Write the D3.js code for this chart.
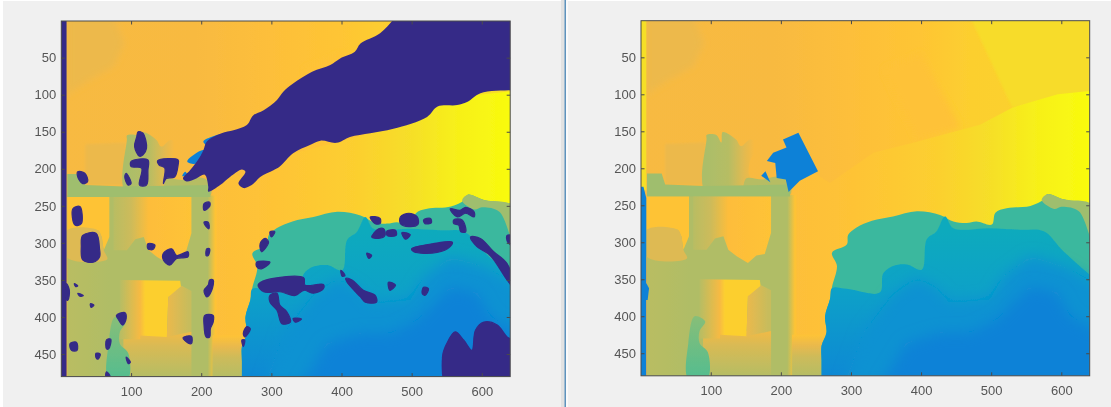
<!DOCTYPE html>
<html>

<head>
  <meta charset="utf-8">
  <title>Depth maps</title>
  <style>
    html, body { margin: 0; padding: 0; background: #f0f0f0; overflow: hidden; }
    text { font-family: "Liberation Sans", Arial, sans-serif; font-size: 13px; fill: #555; }
  </style>
</head>

<body>
  <script src="https://d3js.org/d3.v7.min.js" charset="utf-8"></script>
  <script type="text/javascript">
    var xTicks = [100, 200, 300, 400, 500, 600];
    var yTicks = [50, 100, 150, 200, 250, 300, 350, 400, 450];

    // colormap positions and rgb of the map used by both images
    var cmapPos = [0, 0.125, 0.25, 0.375, 0.5, 0.625, 0.75, 0.875, 0.905, 0.937, 0.97, 1];
    var cmapRgb = ['#352a87', '#0f5cdd', '#127dd8', '#079ccf', '#15b1b4', '#59bd8c', '#a5be6b', '#ecb94c', '#fdbb3d', '#fec832', '#f5e326', '#f9fb0e'];

    // depth regions, pixel coordinates of the image (x, y), painted in order
    var sky = [[-5, -5], [645, -5], [645, 485], [-5, 485]];
    var skyStops = [[0, 0.895], [190, 0.897], [300, 0.915], [400, 0.93], [470, 0.945], [640, 0.95]];
    var wedge = [[399, 44], [456, 145], [394, 163], [346, 66]];
    var skyRight = [[470, -5], [645, -5], [645, 100], [530, 118]];
    var cornerPatch = [[8, -5], [75, -5], [90, 30], [75, 62], [40, 80], [8, 100]];
    var floorPlane = [[645, 95], [595, 100], [530, 118], [484, 141], [394, 164], [332, 179], [270, 220], [220, 190], [215, 240], [215, 485], [645, 485]];
    var floorStops = [[220, 0.915], [300, 0.925], [420, 0.945], [500, 0.965], [560, 0.985], [640, 1]];
    var dimBox = [[35, 167], [92, 165], [95, 222], [35, 222]];
    var frameTop = [[94, 160], [94, 155], [108, 155], [115, 165], [117, 151], [136, 161], [143, 170], [157, 161], [168, 170], [156, 190], [156, 211], [175, 215], [194, 211], [211, 217], [213, 236], [94, 236]];
    var frameTopStops = [[94, 0.76], [125, 0.78], [148, 0.86], [162, 0.897]];
    var frameFoot = [[150, 214], [175, 215], [194, 211], [211, 217], [213, 236], [150, 236]];
    var wall = [[9, 236], [222, 236], [222, 485], [9, 485]];
    var wallStops = [[9, 0.785], [70, 0.77], [209, 0.77], [220, 0.925]];
    var frameBar = [[9, 207], [30, 207], [35, 222], [90, 224], [213, 222], [213, 238], [9, 238]];
    var paneA = [[9, 238], [69, 238], [69, 292], [61, 310], [58, 292], [53, 283], [9, 283]];
    var paneALow = [[9, 283], [53, 283], [58, 292], [61, 310], [66, 322], [9, 320]];
    var paneB = [[75, 238], [186, 238], [186, 287], [177, 316], [165, 318], [153, 328], [137, 319], [125, 310], [118, 292], [106, 295], [94, 310], [75, 310]];
    var paneBStops = [[72, 0.78], [100, 0.82], [125, 0.91], [186, 0.925]];
    var paneLow = [[89, 420], [186, 420], [186, 485], [89, 485]];
    var paneLowStops = [[415, 0.895], [440, 0.84], [480, 0.78]];
    var paneC = [[84, 350], [170, 351], [172, 365], [153, 373], [151, 427], [113, 425], [113, 430], [84, 430]];
    var paneCStops = [[84, 0.78], [113, 0.895], [120, 0.945], [150, 0.945]];
    var paneD = [[153, 373], [172, 358], [186, 365], [186, 420], [151, 427]];
    var paneDStops = [[153, 0.87], [182, 0.81]];
    var floorFront = [[216, 425], [265, 425], [265, 485], [216, 485]];
    var floorFrontStops = [[425, 0.925], [440, 0.87], [455, 0.82], [480, 0.78]];
    var greenColumn = [[68, 436], [77, 400], [92, 407], [84, 420], [84, 436], [96, 449], [95, 485], [68, 485]];
    var greenStops = [[400, 0.7], [480, 0.62]];

    var lake = [[258, 500], [258, 480], [258, 460], [258, 440], [265, 422], [263, 400], [270, 377], [273, 360], [280, 332], [273, 314], [294, 303], [296, 290], [308, 280], [330, 271], [360, 265], [394, 258], [427, 263], [446, 272], [465, 274], [479, 272], [501, 276], [506, 260], [522, 254], [556, 251], [575, 242], [580, 235], [603, 242], [645, 250], [670, 260], [670, 500], [400, 510]];
    var hump = [[572, 243], [580, 235], [603, 242], [645, 250], [645, 300], [625, 258], [600, 252], [590, 255]];
    var lakeInner = [[422, 285], [434, 265], [446, 281], [498, 281], [541, 283], [575, 285], [603, 312], [645, 348], [670, 370], [670, 500], [400, 510], [258, 500], [258, 480], [258, 460], [258, 440], [265, 422], [263, 400], [270, 377], [273, 362], [294, 363], [341, 368], [346, 342], [360, 332], [380, 330], [401, 337], [408, 296]];
    var lakeStops = [[285, 0.46], [360, 0.41], [480, 0.3]];
    var lakeMid = [[289, 495], [318, 422], [360, 371], [394, 348], [422, 362], [441, 382], [498, 377], [517, 346], [556, 319], [603, 332], [655, 359], [655, 495]];
    var lakeCore = [[341, 495], [379, 436], [427, 422], [470, 422], [508, 404], [556, 359], [594, 368], [613, 400], [655, 422], [655, 495]];

    // only in the filled image on the right
    var edgeTop = [[-5, -5], [8, -5], [8, 230], [-5, 230]];
    var edgeLow = [[-5, 225], [4, 225], [8, 240], [8, 355], [12, 362], [10, 378], [8, 378], [8, 485], [-5, 485]];
    var filledBox = [[225, 152], [253, 204], [227, 217], [211, 232], [207, 215], [194, 213], [192, 193], [180, 190], [189, 179], [208, 172], [203, 161]];
    var filledChip = [[172, 210], [178, 204], [185, 219]];

    // only in the raw image on the left
    var slivers = [
      [[203, 163], [217, 156], [227, 154], [212, 170]],
      [[180, 190], [198, 176], [205, 175], [193, 193]],
      [[173, 210], [177, 204], [180, 208]]
    ];
    var bigHole = [[477, -5], [455, 17], [427, 31], [419, 42], [398, 51], [384, 60], [358, 69], [331, 85], [317, 96], [308, 107], [289, 121], [274, 128], [265, 141], [246, 148], [229, 152], [208, 163], [203, 175], [198, 184], [184, 202], [174, 213], [179, 217], [193, 213], [205, 208], [210, 224], [210, 231], [227, 222], [241, 211], [258, 201], [263, 204], [253, 220], [260, 226], [272, 222], [284, 211], [303, 202], [312, 197], [331, 179], [355, 168], [370, 162], [393, 165], [412, 157], [441, 152], [474, 146], [522, 130], [537, 116], [565, 114], [579, 110], [598, 98], [645, 94], [660, 94], [660, -20], [490, -20]];
    var leftStrip = [[-5, -5], [8, -5], [8, 485], [-5, 485]];
    var holes = [
      [[110, 150], [117, 152], [122, 172], [117, 181], [112, 183], [105, 170], [108, 157]],
      [[100, 190], [124, 188], [124, 202], [122, 222], [112, 222], [115, 199], [100, 197]],
      [[93, 206], [100, 220], [96, 222], [91, 211]],
      [[138, 189], [167, 188], [167, 195], [162, 211], [150, 213], [146, 220], [148, 199], [140, 195]],
      [[24, 204], [34, 206], [38, 217], [31, 220], [24, 211]],
      [[204, 247], [212, 245], [212, 251], [204, 256]],
      [[17, 254], [27, 251], [29, 274], [20, 276]],
      [[31, 290], [50, 287], [55, 308], [55, 319], [46, 326], [31, 323], [29, 305]],
      [[124, 301], [134, 303], [131, 309], [124, 308]],
      [[146, 314], [158, 308], [165, 317], [181, 312], [181, 319], [165, 321], [155, 330], [146, 323]],
      [[279, 326], [298, 326], [286, 335], [279, 332]],
      [[284, 301], [291, 294], [296, 299], [286, 312]],
      [[298, 285], [305, 285], [300, 292]],
      [[281, 357], [293, 350], [346, 347], [348, 357], [374, 356], [374, 362], [360, 368], [346, 364], [334, 371], [312, 366], [289, 366]],
      [[298, 371], [308, 368], [312, 384], [322, 393], [327, 407], [315, 409], [308, 391], [298, 380]],
      [[331, 402], [343, 403], [334, 407]],
      [[8, 355], [12, 364], [10, 377], [8, 377]],
      [[19, 355], [24, 358], [21, 359]],
      [[24, 368], [32, 371], [27, 372]],
      [[42, 382], [47, 384], [43, 387]],
      [[79, 398], [91, 394], [93, 402], [88, 411], [81, 402]],
      [[13, 436], [22, 434], [23, 445], [15, 445]],
      [[50, 449], [56, 450], [53, 457], [50, 455]],
      [[65, 431], [71, 430], [68, 443], [65, 443]],
      [[65, 474], [70, 480], [64, 480]],
      [[93, 454], [99, 461], [96, 463]],
      [[174, 428], [186, 426], [186, 436], [181, 435]],
      [[204, 272], [210, 272], [211, 281], [207, 278]],
      [[208, 308], [212, 308], [210, 317], [207, 317]],
      [[212, 350], [217, 350], [215, 364], [208, 373], [204, 364], [210, 357]],
      [[205, 398], [217, 398], [217, 407], [213, 416], [212, 427], [207, 427], [204, 411]],
      [[265, 413], [270, 416], [262, 427], [260, 422]],
      [[258, 431], [262, 431], [260, 440]],
      [[441, 265], [455, 267], [455, 274], [448, 274]],
      [[484, 265], [496, 260], [508, 265], [509, 275], [496, 278], [484, 274]],
      [[517, 269], [527, 267], [528, 273], [519, 274]],
      [[555, 254], [569, 256], [577, 252], [589, 258], [589, 265], [577, 260], [565, 265]],
      [[560, 269], [572, 269], [577, 285], [570, 285], [567, 276], [560, 274]],
      [[453, 281], [460, 281], [462, 290], [453, 294], [443, 292], [446, 287]],
      [[465, 284], [477, 283], [478, 290], [465, 290]],
      [[486, 286], [498, 289], [491, 295]],
      [[500, 308], [531, 301], [558, 299], [555, 305], [536, 313], [503, 312]],
      [[584, 292], [598, 294], [617, 312], [636, 328], [648, 364], [636, 350], [612, 317], [593, 305]],
      [[636, 290], [648, 292], [648, 305], [637, 299]],
      [[436, 314], [443, 317], [439, 321]],
      [[399, 337], [405, 344], [401, 345]],
      [[406, 348], [415, 350], [431, 364], [448, 371], [450, 380], [434, 380], [427, 373], [408, 353]],
      [[467, 353], [477, 357], [469, 364]],
      [[517, 360], [524, 362], [519, 371], [515, 368]],
      [[550, 436], [562, 420], [574, 431], [586, 445], [591, 418], [603, 407], [622, 411], [636, 427], [650, 436], [655, 500], [553, 500], [544, 454]]
    ];

    var parula = d3.scaleLinear().domain(cmapPos).range(cmapRgb);

    // scene shared by both images
    var layers = [
      { pts: sky, axis: 'x', stops: skyStops },
      { pts: wedge, value: 0.922, blur: 'mid' },
      { pts: skyRight, value: 0.962, blur: 'thin' },
      { pts: cornerPatch, value: 0.877, blur: 'mid' },
      { pts: floorPlane, axis: 'x', stops: floorStops },
      { pts: dimBox, value: 0.875, blur: 'thin' },
      { pts: frameTop, axis: 'x', stops: frameTopStops, smooth: true },
      { pts: frameFoot, value: 0.78, smooth: true },
      { pts: wall, axis: 'x', stops: wallStops },
      { pts: frameBar, value: 0.74 },
      { pts: paneA, value: 0.925 },
      { pts: paneALow, value: 0.85, smooth: true },
      { pts: paneB, axis: 'x', stops: paneBStops },
      { pts: paneLow, axis: 'y', stops: paneLowStops },
      { pts: paneC, axis: 'x', stops: paneCStops },
      { pts: paneD, axis: 'x', stops: paneDStops },
      { pts: floorFront, axis: 'y', stops: floorFrontStops },
      { pts: greenColumn, axis: 'y', stops: greenStops, smooth: true },
      { pts: lake, value: 0.57, smooth: true },
      { pts: hump, value: 0.74, smooth: true },
      { pts: lakeInner, axis: 'y', stops: lakeStops, smooth: true },
      { pts: lakeMid, value: 0.335, blur: 'wide' },
      { pts: lakeCore, value: 0.27, blur: 'wide' }
    ];

    var svg = d3.select('body').append('svg').attr('width', 1111).attr('height', 407)
      .style('display', 'block');

    // window chrome around the two figures
    svg.append('rect').attr('x', 0).attr('y', 0).attr('width', 3).attr('height', 407).attr('fill', '#fff');
    svg.append('rect').attr('x', 0).attr('y', 0).attr('width', 1111).attr('height', 1).attr('fill', '#fff');
    svg.append('rect').attr('x', 561).attr('y', 0).attr('width', 4).attr('height', 407).attr('fill', '#e2e2e2');
    svg.append('rect').attr('x', 564.5).attr('y', 0).attr('width', 1.5).attr('height', 407).attr('fill', '#5f93bd');
    svg.append('rect').attr('x', 566).attr('y', 0).attr('width', 2).attr('height', 407).attr('fill', '#fafafa');

    var defs = svg.append('defs');
    function addBlur(id, sd) {
      defs.append('filter').attr('id', id).attr('filterUnits', 'userSpaceOnUse')
        .attr('x', 0).attr('y', 0).attr('width', 1111).attr('height', 407)
        .append('feGaussianBlur').attr('stdDeviation', sd);
    }
    addBlur('soft', 0.6);
    addBlur('softer', 0.35);
    addBlur('thin', 1);
    addBlur('mid', 3);
    addBlur('wide', 7);

    function drawPanel(id, left, right, top, bottom, extra) {
      var x = d3.scaleLinear().domain([0.5, 640.5]).range([left, right]);
      var y = d3.scaleLinear().domain([0.5, 480.5]).range([top, bottom]);
      var line = d3.line().x(function(d) { return x(d[0]); }).y(function(d) { return y(d[1]); });

      defs.append('clipPath').attr('id', id + '-clip').append('rect')
        .attr('x', left).attr('y', top).attr('width', right - left).attr('height', bottom - top);

      function fillOf(layer, i) {
        if (layer.stops === undefined) return parula(layer.value);
        var gid = id + '-grad-' + i;
        var pos = layer.axis === 'x' ? x : y;
        var first = layer.stops[0][0];
        var last = layer.stops[layer.stops.length - 1][0];
        var grad = defs.append('linearGradient').attr('id', gid).attr('gradientUnits', 'userSpaceOnUse')
          .attr('x1', layer.axis === 'x' ? pos(first) : 0).attr('x2', layer.axis === 'x' ? pos(last) : 0)
          .attr('y1', layer.axis === 'y' ? pos(first) : 0).attr('y2', layer.axis === 'y' ? pos(last) : 0);
        grad.selectAll('stop').data(layer.stops).enter().append('stop')
          .attr('offset', function(d) { return (d[0] - first) / (last - first); })
          .attr('stop-color', function(d) { return parula(d[1]); });
        return 'url(#' + gid + ')';
      }

      var image = svg.append('g').attr('clip-path', 'url(#' + id + '-clip)')
        .append('g').attr('filter', 'url(#soft)');

      image.selectAll('path').data(layers.concat(extra)).enter().append('path')
        .attr('d', function(d) {
          line.curve(d.smooth ? d3.curveCatmullRomClosed.alpha(0.5) : d3.curveLinearClosed);
          return line(d.pts);
        })
        .attr('fill', fillOf)
        .attr('stroke', function(d) { return d.fat ? parula(d.value) : 'none'; })
        .attr('stroke-width', function(d) { return d.fat ? 1.2 : 0; })
        .attr('filter', function(d) { return d.blur ? 'url(#' + d.blur + ')' : null; });

      // axes with inward ticks, MATLAB style
      var frame = svg.append('g').attr('filter', 'url(#softer)');
      frame.append('rect').attr('x', left).attr('y', top)
        .attr('width', right - left).attr('height', bottom - top)
        .attr('fill', 'none').attr('stroke', '#4a4a4a');

      var bottomAxis = d3.axisBottom(x).tickValues(xTicks).tickSizeInner(-3.5).tickSizeOuter(0).tickPadding(10);
      var leftAxis = d3.axisLeft(y).tickValues(yTicks).tickSizeInner(-3.5).tickSizeOuter(0).tickPadding(5);
      var topAxis = d3.axisTop(x).tickValues(xTicks).tickSizeInner(-3.5).tickSizeOuter(0).tickFormat('');
      var rightAxis = d3.axisRight(y).tickValues(yTicks).tickSizeInner(-3.5).tickSizeOuter(0).tickFormat('');

      var axes = [
        frame.append('g').attr('transform', 'translate(0,' + bottom + ')').call(bottomAxis),
        frame.append('g').attr('transform', 'translate(' + left + ',0)').call(leftAxis),
        frame.append('g').attr('transform', 'translate(0,' + top + ')').call(topAxis),
        frame.append('g').attr('transform', 'translate(' + right + ',0)').call(rightAxis)
      ];
      axes.forEach(function(a) {
        a.select('.domain').remove();
        a.selectAll('line').attr('stroke', '#4a4a4a');
        a.selectAll('text').attr('font-size', null).attr('font-family', null).attr('fill', null);
        a.attr('font-size', null).attr('font-family', null);
      });
    }

    var rawExtra = slivers.map(function(s) { return { pts: s, value: 0.27, smooth: true }; })
      .concat([{ pts: bigHole, value: 0, smooth: true }, { pts: leftStrip, value: 0 }])
      .concat(holes.map(function(h) { return { pts: h, value: 0, smooth: true, fat: true }; }));

    var filledExtra = [
      { pts: edgeTop, value: 0.965 },
      { pts: edgeLow, value: 0.265 },
      { pts: filledBox, value: 0.265 },
      { pts: filledChip, value: 0.265 }
    ];

    drawPanel('raw', 61.3, 510.2, 21, 376.6, rawExtra);
    drawPanel('filled', 641, 1089.7, 20.7, 375.8, filledExtra);
  </script>
</body>

</html>
